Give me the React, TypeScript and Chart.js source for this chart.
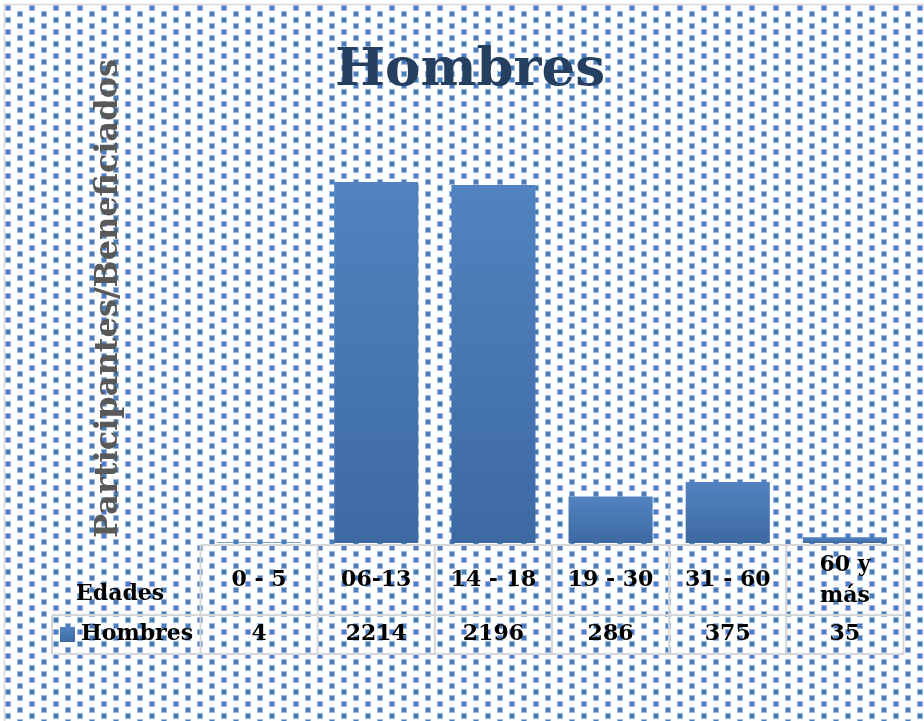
import { useEffect, useRef } from 'react';
import { Chart, registerables } from 'chart.js';

Chart.register(...registerables);

// ---- data ----
const categories: string[] = ['0 - 5', '06-13', '14 - 18', '19 - 30', '31 - 60', '60 y más'];
const tickLabels: string[][] = [['0 - 5'], ['06-13'], ['14 - 18'], ['19 - 30'], ['31 - 60'], ['60 y', 'más']];
const hombres: number[] = [4, 2214, 2196, 286, 375, 35];
const seriesName = 'Hombres';
const rowHeader = 'Edades';
const chartTitle = 'Hombres';
const yTitle = 'Participantes/Beneficiados';
const yMin = 0;
const yMax = 3000;

const FONT = '"DejaVu Serif", "Liberation Serif", serif';
const BAR_TOP = '#5283c0';
const BAR_BOTTOM = '#3d69a3';
const GRID = '#d6d6d6';

const backgroundPlugin = {
  id: 'patternBackground',
  beforeDraw(chart: any) {
    const { ctx, width, height } = chart;
    ctx.save();
    ctx.fillStyle = '#ffffff';
    ctx.fillRect(0, 0, width, height);
    let r = 0;
    for (let y = 8; y < height + 12; y += 6, r++) {
      const x0 = r % 2 === 0 ? 8 : 20;
      for (let x = x0; x < width + 12; x += 24) {
        ctx.fillStyle = '#9dbae0';
        ctx.fillRect(x - 3, y - 3, 6, 6);
        ctx.fillStyle = '#4a7dbd';
        ctx.fillRect(x - 2, y - 2, 4, 4);
      }
    }
    ctx.strokeStyle = '#d9d9d9';
    ctx.lineWidth = 1.5;
    ctx.strokeRect(4.5, 4.5, width + 20, height + 20);
    ctx.restore();
  },
};

const titlePlugin = {
  id: 'chartTitleText',
  afterDraw(chart: any) {
    const { ctx } = chart;
    ctx.save();
    ctx.font = `bold 53px ${FONT}`;
    ctx.fillStyle = '#243f60';
    ctx.textAlign = 'center';
    ctx.textBaseline = 'alphabetic';
    ctx.fillText(chartTitle, 470, 85);
    ctx.restore();
  },
};

const tablePlugin = {
  id: 'dataTable',
  afterDraw(chart: any) {
    const { ctx, chartArea } = chart;
    const xs = chart.scales.x;
    const n = categories.length;
    const step = xs.getPixelForValue(1) - xs.getPixelForValue(0);
    const left = xs.getPixelForValue(0) - step / 2;
    const right = xs.getPixelForValue(n - 1) + step / 2;
    const top = chartArea.bottom + 2;
    const mid = top + 70;
    const bottom = top + 109;
    const rowLeft = 52;

    ctx.save();
    ctx.strokeStyle = GRID;
    ctx.lineWidth = 2;
    const line = (x1: number, y1: number, x2: number, y2: number) => {
      ctx.beginPath();
      ctx.moveTo(x1, y1);
      ctx.lineTo(x2, y2);
      ctx.stroke();
    };
    line(left, top, right, top);
    line(rowLeft, mid, right, mid);
    line(rowLeft, bottom, right, bottom);
    for (let i = 0; i <= n; i++) {
      const x = left + i * step;
      line(x, top, x, bottom);
    }
    line(rowLeft, mid, rowLeft, bottom);

    ctx.font = `bold 22px ${FONT}`;
    ctx.fillStyle = '#000000';
    ctx.textBaseline = 'middle';
    ctx.textAlign = 'center';
    hombres.forEach((v, i) => {
      ctx.fillText(String(v), xs.getPixelForValue(i), (mid + bottom) / 2);
    });
    ctx.textAlign = 'left';
    ctx.fillText(rowHeader, 76, top + 49);
    // legend key
    const ky = (mid + bottom) / 2 - 7.5;
    const g = ctx.createLinearGradient(0, ky, 0, ky + 15);
    g.addColorStop(0, BAR_TOP);
    g.addColorStop(1, BAR_BOTTOM);
    ctx.fillStyle = g;
    ctx.fillRect(60, ky, 15, 15);
    ctx.fillStyle = '#000000';
    ctx.fillText(seriesName, 81, (mid + bottom) / 2);
    ctx.restore();
  },
};

export default function App() {
  const canvasRef = useRef<HTMLCanvasElement | null>(null);

  useEffect(() => {
    document.body.style.margin = '0';
    const canvas = canvasRef.current;
    if (!canvas) return;
    const chart = new Chart(canvas, {
      type: 'bar',
      data: {
        labels: tickLabels as any,
        datasets: [
          {
            label: seriesName,
            data: hombres,
            backgroundColor: (c: any) => {
              const ch = c.chart;
              if (!ch.chartArea || c.type !== 'data' || !c.parsed) return '#4f81bd';
              const ys = ch.scales.y;
              const t = ys.getPixelForValue(c.parsed.y);
              const b = ys.getPixelForValue(0);
              if (b - t < 2) return '#4f81bd';
              const g = ch.ctx.createLinearGradient(0, t, 0, b);
              g.addColorStop(0, BAR_TOP);
              g.addColorStop(1, BAR_BOTTOM);
              return g;
            },
            borderWidth: 0,
            categoryPercentage: 1,
            barPercentage: 0.718,
          },
        ],
      },
      options: {
        animation: false,
        responsive: false,
        devicePixelRatio: 1,
        layout: { padding: { left: 0, right: 20.5, top: 54, bottom: 0 } },
        plugins: {
          legend: { display: false },
          tooltip: { enabled: false },
          title: { display: false },
        },
        scales: {
          x: {
            grid: { display: false, drawTicks: false },
            border: { display: false },
            ticks: {
              color: '#000000',
              font: { family: FONT, size: 22, weight: 'bold', lineHeight: 1.4 },
              padding: 22,
              maxRotation: 0,
              minRotation: 0,
              autoSkip: false,
              crossAlign: 'center',
            },
            afterFit: (scale: any) => {
              scale.height = 178;
            },
          },
          y: {
            min: yMin,
            max: yMax,
            grid: { display: false },
            border: { display: false },
            ticks: { display: false },
            title: {
              display: true,
              text: yTitle,
              color: '#595959',
              font: { family: FONT, size: 32, weight: 'bold' },
              padding: { top: 89, bottom: 0 },
            },
            afterFit: (scale: any) => {
              scale.width = 200.5;
            },
          },
        },
      },
      plugins: [backgroundPlugin, titlePlugin, tablePlugin],
    } as any);
    return () => chart.destroy();
  }, []);

  return <canvas ref={canvasRef} width={924} height={721} style={{ display: 'block' }} />;
}
